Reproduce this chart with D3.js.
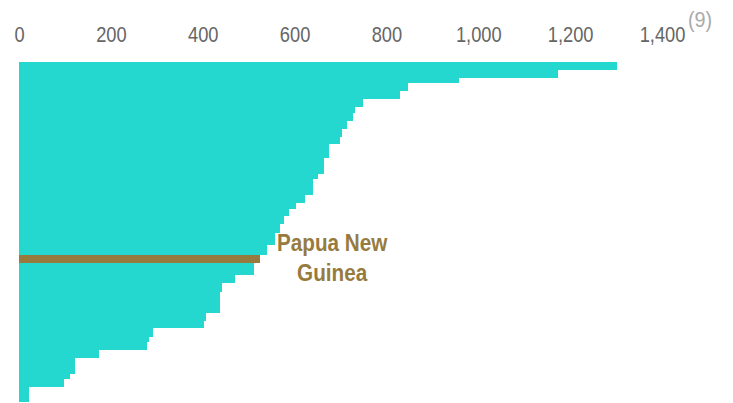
<!DOCTYPE html>
<html>
<head>
<meta charset="utf-8">
<script src="https://cdn.jsdelivr.net/npm/d3@7/dist/d3.min.js"></script>
<style>
  html, body { margin: 0; padding: 0; background: #fff; }
  svg { display: block; }
</style>
</head>
<body>
<svg id="chart" width="733" height="403"></svg>
<script>
// Values per country, ranked from highest to lowest
const values = [1302, 1174, 959, 848, 830, 750, 732, 727, 715, 703, 698, 674, 663, 651, 640,
  622, 603, 587, 576, 569, 558, 540, 525, 511, 471, 442, 437, 408, 402, 291, 284, 279,
  174, 122, 111, 99, 22];
// Relative weight of each country (sets the thickness of its bar)
const weights = [8, 8, 5, 8, 8, 8, 5.7, 8, 8, 8, 7.6, 13.4, 16.3, 5, 16,
  7.5, 6, 7, 8.5, 8.5, 12.5, 9.5, 8.2, 12.3, 8.3, 8.4, 21, 8.3, 7.3, 8.4, 5, 8.3,
  8.3, 15.7, 5.3, 8, 14.7];
// Only the highlighted country carries a name label
const labels = values.map((v, i) => i === 22 ? "Papua New Guinea" : "");
const highlight = "Papua New Guinea";
const tickValues = [0, 200, 400, 600, 800, 1000, 1200, 1400];
const footnote = "(9)";

const FONT = "\"Liberation Sans\", Arial, sans-serif";
const svg = d3.select("#chart");

const x = d3.scaleLinear().domain([0, 1400]).range([19, 662]);

// Cumulative weights give each bar its top and bottom edge
const cum = [0];
weights.forEach(w => cum.push(cum[cum.length - 1] + w));
const y = d3.scaleLinear().domain([0, cum[cum.length - 1]]).range([62, 402]);

const rows = values.map((v, i) => ({ value: v, label: labels[i], y0: cum[i], y1: cum[i + 1] }));

// Bars
svg.append("g")
  .attr("shape-rendering", "crispEdges")
  .selectAll("rect")
  .data(rows)
  .join("rect")
  .attr("x", x(0))
  .attr("y", d => y(d.y0))
  .attr("width", d => x(d.value) - x(0))
  .attr("height", d => y(d.y1) - y(d.y0))
  .attr("fill", d => d.label === highlight ? "#977B3E" : "#24D8CF");

// Top axis: labels only, set in a condensed face
const axis = svg.append("g")
  .attr("transform", "translate(0,42)")
  .call(d3.axisTop(x).tickValues(tickValues).tickSize(0).tickPadding(0)
    .tickFormat(d3.format(",")));
axis.select(".domain").remove();
axis.selectAll("text")
  .attr("font-family", FONT)
  .attr("fill", "#666")
  .attr("font-size", 22)
  .attr("transform", "scale(0.83,1)");

// Footnote marker
svg.append("text")
  .attr("transform", `translate(${x(1400) + 26},27) scale(0.9,1)`)
  .attr("font-family", FONT)
  .attr("font-size", 22)
  .attr("fill", "#AAAAAA")
  .text(footnote);

// Label for the highlighted country
rows.filter(d => d.label === highlight).forEach(d => {
  const g = svg.append("g")
    .attr("transform", `translate(${x(d.value) + 72},0) scale(0.9,1)`);
  const t = g.append("text")
    .attr("text-anchor", "middle")
    .attr("font-family", FONT)
    .attr("font-weight", "bold")
    .attr("font-size", 23)
    .attr("fill", "#977B3E");
  ["Papua New", "Guinea"].forEach((ln, k) => {
    t.append("tspan").attr("x", 0).attr("y", 251 + k * 30).text(ln);
  });
});
</script>
</body>
</html>
